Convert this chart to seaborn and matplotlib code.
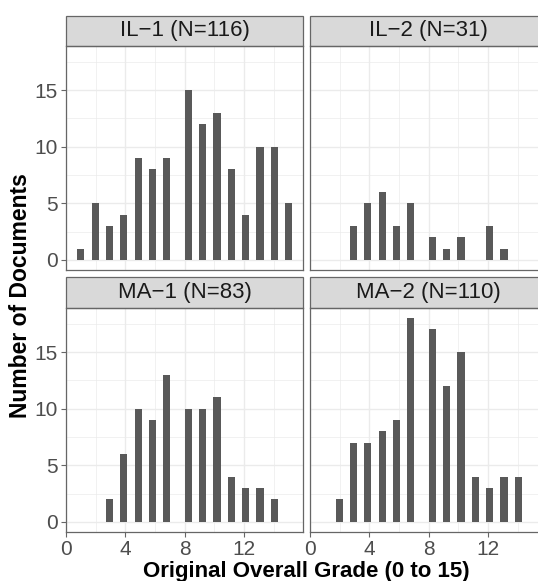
import numpy as np
import pandas as pd
import seaborn as sns
import matplotlib.pyplot as plt
from matplotlib.patches import Rectangle

# counts of documents per original grade (1..15)
grades = np.arange(1, 16)
il1_counts = [1, 5, 3, 4, 9, 8, 9, 15, 12, 13, 8, 4, 10, 10, 5]
il2_counts = [0, 0, 3, 5, 6, 3, 5, 2, 1, 2, 0, 3, 1, 0, 0]
ma1_counts = [0, 0, 2, 6, 10, 9, 13, 10, 10, 11, 4, 3, 3, 2, 0]
ma2_counts = [0, 2, 7, 7, 8, 9, 18, 17, 12, 15, 4, 3, 4, 4, 0]

groups = ["IL-1", "IL-2", "MA-1", "MA-2"]
counts = [il1_counts, il2_counts, ma1_counts, ma2_counts]

df = pd.concat([pd.DataFrame({"group": g, "grade": grades, "n": c})
                for g, c in zip(groups, counts)])
df = df[df["n"] > 0]

sns.set_theme(style="white")
plt.rcParams["font.family"] = ["Liberation Sans", "DejaVu Sans"]

# ggplot-style histogram: 30 bins over the pooled range
n_bins = 30
lo, hi = df["grade"].min(), df["grade"].max()
bw = (hi - lo) / (n_bins - 1)
edges = lo - bw / 2 + bw * np.arange(n_bins + 1) - 1e-9
span = edges[-1] - edges[0]
xlim = (edges[0] - 0.05 * span, edges[-1] + 0.05 * span)
ymax = df["n"].max()
ylim = (-0.05 * ymax, ymax * 1.05)

W, H = 538, 581
fig = plt.figure(figsize=(W / 100, H / 100), dpi=100)

def px_axes(x0, y0, w, h):
    return fig.add_axes([x0 / W, 1 - (y0 + h) / H, w / W, h / H])

pw, ph, strip_h = 237, 224, 30.5
lefts = [66, 310]
tops = [46, 308]

border = "#666666"
for i, g in enumerate(groups):
    row, col = divmod(i, 2)
    ax = px_axes(lefts[col], tops[row], pw, ph)
    sub = df[df["group"] == g]
    sns.histplot(data=sub, x="grade", weights="n", bins=list(edges), color="#595959",
                 alpha=1, edgecolor="none", linewidth=0, ax=ax, zorder=2)
    ax.set_xlim(xlim)
    ax.set_ylim(ylim)
    ax.set_xticks([0, 4, 8, 12])
    ax.set_xticks([2, 6, 10, 14], minor=True)
    ax.set_yticks([0, 5, 10, 15])
    ax.set_yticks([2.5, 7.5, 12.5, 17.5], minor=True)
    ax.grid(which="major", color="#EBEBEB", linewidth=1.0, zorder=0)
    ax.grid(which="minor", color="#EBEBEB", linewidth=0.5, zorder=0)
    ax.set_axisbelow(True)
    ax.set_xlabel("")
    ax.set_ylabel("")
    for s in ax.spines.values():
        s.set_color(border)
        s.set_linewidth(0.9)
        s.set_zorder(5)
    ax.tick_params(which="major", length=3.5, width=0.8, color=border,
                   labelsize=15, labelcolor="#4D4D4D", pad=2.5,
                   bottom=(row == 1), labelbottom=(row == 1),
                   left=(col == 0), labelleft=(col == 0))
    ax.tick_params(which="minor", length=0)

    # facet strip
    sh = strip_h / ph
    ax.add_patch(Rectangle((0, 1), 1, sh, transform=ax.transAxes, clip_on=False,
                           facecolor="#D9D9D9", edgecolor=border, linewidth=0.9))
    label = f"{g.replace('-', '\u2212')} (N={sum(counts[i])})"
    ax.text(0.5, 1 + sh / 2, label, transform=ax.transAxes, ha="center",
            va="center", fontsize=16, color="#1A1A1A")

fig.text(306 / W, 1 - 572 / H, "Original Overall Grade (0 to 15)", ha="center",
         va="center", fontsize=16, fontweight="bold", color="black")
fig.text(21 / W, 1 - 296 / H, "Number of Documents", ha="center", va="center",
         rotation=90, fontsize=16.5, fontweight="bold", color="black")

fig.savefig("out.png", dpi=100)
